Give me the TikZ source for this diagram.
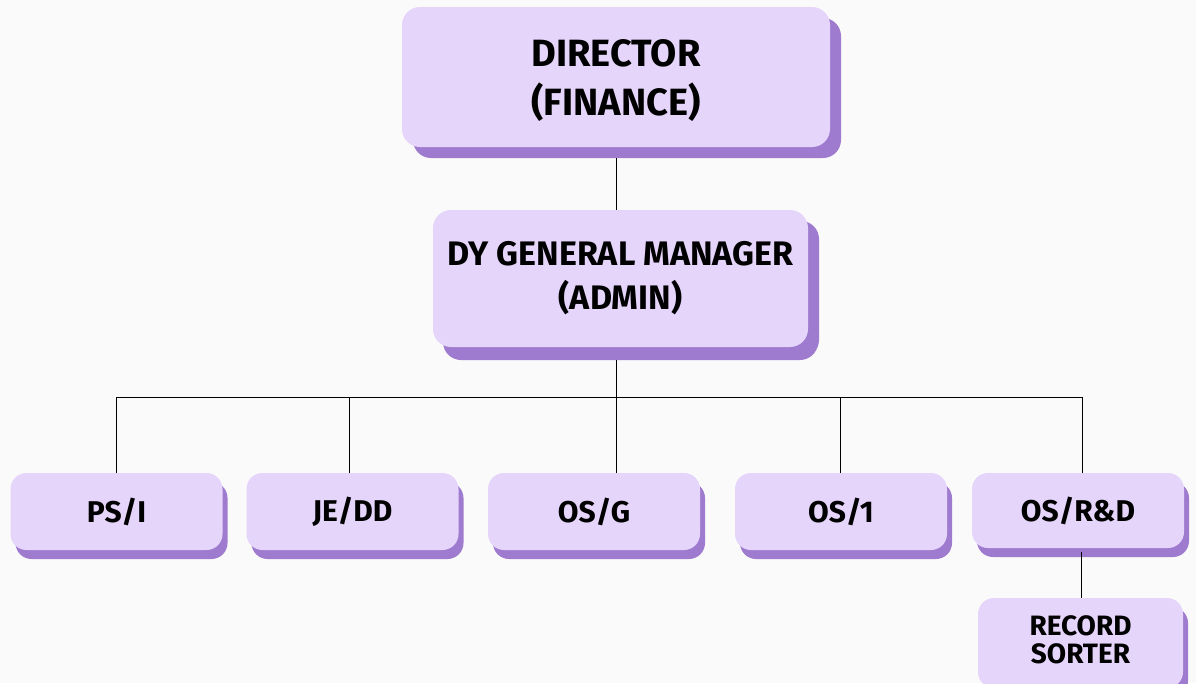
\documentclass[tikz,border=0pt]{standalone}
\usepackage{fontspec}
\setmainfont{Fira Sans}[UprightFont=* Bold]
\usetikzlibrary{shadows}
\definecolor{boxfill}{HTML}{E6D5FB}
\definecolor{shadowc}{HTML}{9E7BCF}
\definecolor{bg}{HTML}{FAFAFA}
\tikzset{
  bigbox/.style={rounded corners=18pt, fill=boxfill, align=center, inner sep=0pt,
    drop shadow={shadow xshift=11pt, shadow yshift=-11pt, fill=shadowc, opacity=1}},
  smallbox/.style={rounded corners=16pt, fill=boxfill, align=center, inner sep=0pt,
    minimum width=212pt, minimum height=77pt, font=\fontsize{30}{32}\selectfont,
    drop shadow={shadow xshift=5pt, shadow yshift=-9pt, fill=shadowc, opacity=1}},
  link/.style={draw=black, line width=1pt}
}
\begin{document}
\begin{tikzpicture}[x=1pt,y=-1pt]
\fill[bg] (0,0) rectangle (1196,683);
\useasboundingbox (0,0) rectangle (1196,683);
\node[bigbox, minimum width=428pt, minimum height=140pt] (dir) at (616,77) {};
\node[align=center, inner sep=0pt, font=\fontsize{38}{49}\selectfont] (dirlabel) at ([yshift=-4pt]dir.center) {DIRECTOR\\(FINANCE)};
\node[bigbox, minimum width=375pt, minimum height=137pt, font=\fontsize{34}{44}\selectfont,
  drop shadow={shadow xshift=10pt, shadow yshift=-13pt, fill=shadowc, opacity=1}] (dgm) at (620.5,278.5) {DY GENERAL MANAGER\\(ADMIN)};
\node[smallbox] (ps) at (116.5,511.5) {PS/I};
\node[smallbox] (je) at (352.5,511.5) {JE/DD};
\node[smallbox] (osg) at (594,511.5) {OS/G};
\node[smallbox] (os1) at (841,511.5) {OS/1};
\node[smallbox, minimum height=75pt] (osrd) at (1078,510.5) {OS/R\&D};
\node[smallbox, minimum width=205pt, minimum height=90pt] (rs) at (1080.5,643) {};
\node[align=center, inner sep=0pt, font=\fontsize{28}{28}\selectfont] (rslabel) at ([yshift=3pt]rs.center) {RECORD\\SORTER};
\draw[link] (616,158) -- (dgm.north -| 616,0);
\draw[link] (616,360) -- (616,397);
\draw[link] (116,397) -- (1082,397);
\foreach \x/\n in {116/ps,349/je,616/osg,840/os1,1082/osrd}{
  \draw[link] (\x,397) -- (\n.north -| \x,0);
}
\draw[link] (1081,552) -- (rs.north -| 1081,0);
\end{tikzpicture}
\end{document}
